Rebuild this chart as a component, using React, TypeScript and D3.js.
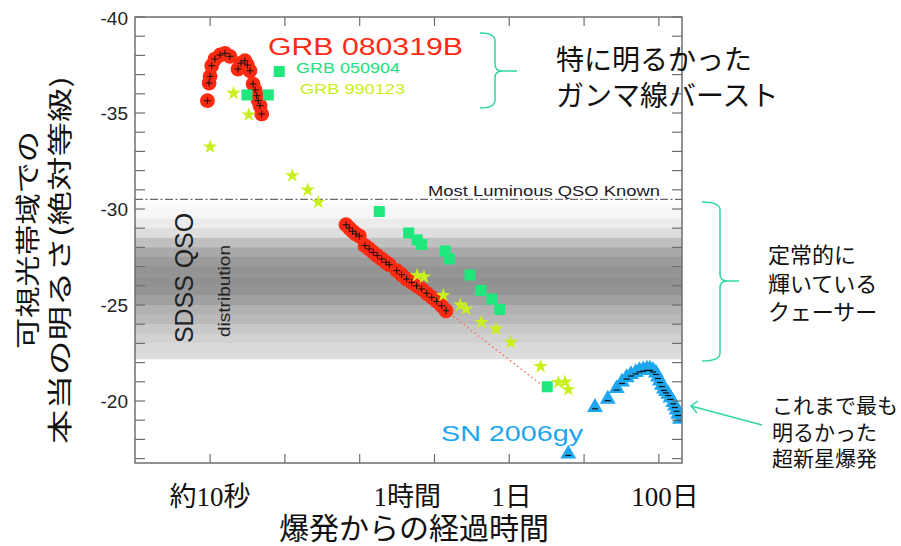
import React, { useEffect, useRef } from 'react';
import * as d3 from 'd3';

// [time since burst (s), absolute visual magnitude]
const grb080319b: [number, number][] = [
  [9.2, -35.64], [9.7, -36.56], [10.0, -36.91],
  [10.5, -37.46], [11.6, -37.81], [13.6, -38.02], [15.8, -38.11], [18.4, -37.95],
  [23.6, -37.29], [25.9, -37.6], [29.2, -37.72], [31.5, -37.5], [34.1, -37.2],
  [37.5, -36.51], [40, -36.2], [42, -35.9], [44, -35.65], [46.5, -35.38], [49, -34.95],
  [656, -29.18], [726, -29.01], [805, -28.84], [891, -28.7], [989, -28.59],
  [1178, -28.09], [1343, -27.92], [1521, -27.74], [1718, -27.57], [1968, -27.4],
  [2249, -27.22], [2489, -27.1],
  [3126, -26.79], [3639, -26.58], [4246, -26.35], [4955, -26.18], [5781, -26.0],
  [6745, -25.83], [7870, -25.61], [9183, -25.4], [10690, -25.19], [12470, -24.96],
  [14260, -24.7],
];
const grb080319bTail: [number, number][] = [[14260, -24.7], [282500, -20.78]];

const grb050904: [number, number][] = [
  [31.1, -35.94], [60, -35.94], [84, -37.16], [1828, -29.87], [4520, -28.75],
  [5890, -28.39], [6745, -28.15], [13930, -27.81], [15730, -27.4], [29850, -26.56],
  [41600, -25.76], [58200, -25.31], [74450, -24.77], [322000, -20.74],
];

const grb990123: [number, number][] = [
  [10, -33.24], [20.6, -36.03], [32.8, -34.9], [125.6, -31.74], [202, -30.99],
  [280, -30.36], [5840, -26.54], [7240, -26.46], [13120, -25.5], [22130, -25.0],
  [26380, -24.79], [42480, -24.09], [66400, -23.75], [105400, -23.06],
  [263000, -21.8], [452000, -20.97], [555600, -20.99], [615000, -20.59],
];

const sn2006gy: [number, number][] = [
  [615000, -17.24], [1.4e6, -19.67], [2.075e6, -20.1], [2.73e6, -20.65],
  [3.21e6, -20.99], [3.71e6, -21.22], [4.24e6, -21.38], [4.91e6, -21.49],
  [5.51e6, -21.59], [6.18e6, -21.63], [6.93e6, -21.67], [7.6e6, -21.67],
  [8.34e6, -21.59], [9.14e6, -21.46], [9.75e6, -21.25], [1.035e7, -21.04],
  [1.1e7, -20.83], [1.17e7, -20.63], [1.245e7, -20.5], [1.337e7, -20.36],
  [1.43e7, -20.16], [1.56e7, -19.93], [1.64e7, -19.74], [1.73e7, -19.54],
  [1.817e7, -19.32], [1.915e7, -19.06],
];

// SDSS QSO distribution: magnitude bin edges and relative density
const qsoMagEdges = [-30.3, -30, -29.5, -29, -28.5, -28, -27.5, -27, -26.5, -26, -25.5, -25, -24.5, -24, -23.5, -23, -22.5, -22.2];
const qsoDensity = [0.01, 0.05, 0.15, 0.26, 0.54, 0.75, 0.87, 0.94, 0.96, 0.94, 0.83, 0.66, 0.6, 0.46, 0.37, 0.3, 0.26];
const mostLuminousQso = -30.5;

const magTickLabels = [-40, -35, -30, -25, -20];
const magMinorTicks = d3.range(-40, -16, 1);
const timeDecades = [10, 100, 1e3, 1e4, 1e5, 1e6, 1e7];
const timeTickValues = [10, 3600, 86400, 8640000];
const timeTickLabels = ['約10秒', '1時間', '1日', '100日'];

const JP = "'Noto Sans CJK JP', sans-serif";
const SANS = "'Liberation Sans', Arial, sans-serif";
const SERIF = "'Liberation Serif', 'Noto Sans CJK JP', serif";
const TEAL = '#2fd6a6';

const App = () => {
  const svgRef = useRef<SVGSVGElement>(null);

  useEffect(() => {
    if (!svgRef.current) return;
    const svg = d3.select(svgRef.current);
    svg.selectAll('*').remove();

    const left = 135, right = 682, top = 17, bottom = 463;
    const x = d3.scaleLog().domain([0.99, 2.04e7]).range([left, right]);
    const y = d3.scaleLinear().domain([-40, -16.77]).range([top, bottom]);
    const gray = d3.scaleLinear<string>().domain([0, 1]).range(['#fbfbfb', '#8d8d8d']);

    svg.append('defs').append('clipPath').attr('id', 'plot-clip')
      .append('rect').attr('x', left).attr('y', top)
      .attr('width', right - left).attr('height', bottom - top);

    const plot = svg.append('g').attr('clip-path', 'url(#plot-clip)');

    // QSO band
    plot.selectAll('.qso')
      .data(qsoDensity)
      .enter()
      .append('rect')
      .attr('x', left)
      .attr('width', right - left)
      .attr('y', (d, i) => y(qsoMagEdges[i]))
      .attr('height', (d, i) => y(qsoMagEdges[i + 1]) - y(qsoMagEdges[i]) + 0.5)
      .attr('fill', d => gray(d));

    plot.append('line')
      .attr('x1', left).attr('x2', right)
      .attr('y1', y(mostLuminousQso)).attr('y2', y(mostLuminousQso))
      .attr('stroke', '#6a6a6a').attr('stroke-width', 1.2)
      .attr('stroke-dasharray', '8,2.5,2,2.5');

    plot.append('text')
      .attr('x', 428).attr('y', 196)
      .attr('font-family', SANS).attr('font-size', 15)
      .attr('textLength', 232).attr('lengthAdjust', 'spacingAndGlyphs')
      .attr('fill', '#1a1a2a')
      .text('Most Luminous QSO Known');

    plot.append('text')
      .attr('transform', 'translate(184,278) rotate(-90)')
      .attr('text-anchor', 'middle').attr('dominant-baseline', 'central')
      .attr('font-family', SANS).attr('font-size', 25)
      .attr('textLength', 130).attr('lengthAdjust', 'spacingAndGlyphs')
      .attr('fill', '#222')
      .text('SDSS QSO');

    plot.append('text')
      .attr('transform', 'translate(224,291) rotate(-90)')
      .attr('text-anchor', 'middle').attr('dominant-baseline', 'central')
      .attr('font-family', SANS).attr('font-size', 17)
      .attr('textLength', 92).attr('lengthAdjust', 'spacingAndGlyphs')
      .attr('fill', '#222')
      .text('distribution');

    // GRB 080319B: red blobs with black crosses, dotted extrapolation
    plot.append('path')
      .datum(grb080319bTail)
      .attr('d', d3.line<[number, number]>().x(d => x(d[0])).y(d => y(d[1])))
      .attr('fill', 'none').attr('stroke', '#ff6a5a')
      .attr('stroke-width', 1.4).attr('stroke-dasharray', '1.5,3');

    plot.selectAll('.grb-a')
      .data(grb080319b)
      .enter()
      .append('circle')
      .attr('cx', d => x(d[0])).attr('cy', d => y(d[1]))
      .attr('r', 7.4)
      .attr('fill', '#ff2a12');

    const cross = 3.5;
    plot.selectAll('.grb-a-cross')
      .data(grb080319b)
      .enter()
      .append('path')
      .attr('d', d => {
        const cx = x(d[0]), cy = y(d[1]);
        return `M${cx - cross},${cy}H${cx + cross}M${cx},${cy - cross}V${cy + cross}`;
      })
      .attr('stroke', '#111').attr('stroke-width', 1);

    // GRB 050904 squares
    plot.selectAll('.grb-b')
      .data(grb050904)
      .enter()
      .append('rect')
      .attr('x', d => x(d[0]) - 5.5).attr('y', d => y(d[1]) - 5.5)
      .attr('width', 11).attr('height', 11)
      .attr('fill', '#1ee87c');

    // GRB 990123 stars
    const star = d3.symbol().type(d3.symbolStar).size(66);
    plot.selectAll('.grb-c')
      .data(grb990123)
      .enter()
      .append('path')
      .attr('transform', d => `translate(${x(d[0])},${y(d[1])})`)
      .attr('d', star())
      .attr('fill', '#c8f01e');

    // SN 2006gy triangles
    const tri = d3.symbol().type(d3.symbolTriangle).size(110);
    plot.selectAll('.sn')
      .data(sn2006gy)
      .enter()
      .append('path')
      .attr('transform', d => `translate(${x(d[0])},${y(d[1])})`)
      .attr('d', tri())
      .attr('fill', '#1ea6f0');
    plot.selectAll('.sn-dash')
      .data(sn2006gy)
      .enter()
      .append('path')
      .attr('d', d => `M${x(d[0]) - 3},${y(d[1]) + 1.5}H${x(d[0]) + 3}`)
      .attr('stroke', '#111').attr('stroke-width', 1.2);

    // frame + ticks
    const axisColor = '#6e6e6e';
    svg.append('rect')
      .attr('x', left).attr('y', top)
      .attr('width', right - left).attr('height', bottom - top)
      .attr('fill', 'none').attr('stroke', axisColor).attr('stroke-width', 1.5);

    const tickG = svg.append('g').attr('stroke', axisColor).attr('stroke-width', 1.2);
    magMinorTicks.forEach(m => {
      tickG.append('line').attr('x1', left).attr('x2', left + 10).attr('y1', y(m)).attr('y2', y(m));
      tickG.append('line').attr('x1', right - 10).attr('x2', right).attr('y1', y(m)).attr('y2', y(m));
    });
    timeDecades.forEach(t => {
      tickG.append('line').attr('x1', x(t)).attr('x2', x(t)).attr('y1', top).attr('y2', top + 9);
      tickG.append('line').attr('x1', x(t)).attr('x2', x(t)).attr('y1', bottom - 9).attr('y2', bottom);
    });

    svg.selectAll('.ylab')
      .data(magTickLabels)
      .enter()
      .append('text')
      .attr('x', 128).attr('y', d => y(d) + 1)
      .attr('text-anchor', 'end').attr('dominant-baseline', 'central')
      .attr('font-family', SANS).attr('font-size', 19)
      .attr('fill', '#222')
      .text(d => d);

    const labelShift = [0, 6, 7, 11];
    svg.selectAll('.xlab')
      .data(timeTickValues)
      .enter()
      .append('text')
      .attr('x', (d, i) => x(d) + labelShift[i]).attr('y', 506)
      .attr('text-anchor', 'middle')
      .attr('font-family', SERIF).attr('font-size', 27)
      .attr('fill', '#111')
      .text((d, i) => timeTickLabels[i]);

    // axis titles
    svg.append('text')
      .attr('x', 414).attr('y', 539)
      .attr('text-anchor', 'middle')
      .attr('font-family', JP).attr('font-size', 30)
      .attr('fill', '#111')
      .text('爆発からの経過時間');

    const yTitle: [string, number, number, number][] = [
      ['可視光帯域での', 26, 240, 218],
      ['本当の明るさ(絶対等級)', 58, 260, 368],
    ];
    yTitle.forEach(([s, cx, cy, len]) => {
      svg.append('text')
        .attr('transform', `translate(${cx},${cy}) scale(0.8,1) rotate(-90)`)
        .attr('text-anchor', 'middle').attr('dominant-baseline', 'central')
        .attr('font-family', JP).attr('font-size', 31)
        .attr('textLength', len).attr('lengthAdjust', 'spacingAndGlyphs')
        .attr('fill', '#111')
        .text(s);
    });

    // series labels
    const labels = [
      { s: 'GRB 080319B', x: 268, y: 55, size: 23, len: 195, c: '#ff2a12' },
      { s: 'GRB 050904', x: 296, y: 73, size: 15, len: 104, c: '#22e07a' },
      { s: 'GRB 990123', x: 300, y: 94, size: 15, len: 105, c: '#c8f01e' },
      { s: 'SN 2006gy', x: 441, y: 441, size: 22, len: 142, c: '#1ea6f0' },
    ];
    labels.forEach(l => {
      svg.append('text')
        .attr('x', l.x).attr('y', l.y)
        .attr('font-family', SANS).attr('font-size', l.size)
        .attr('textLength', l.len).attr('lengthAdjust', 'spacingAndGlyphs')
        .attr('fill', l.c)
        .text(l.s);
    });

    // braces and annotations
    const brace = (x0: number, sx: number, tx: number, y0: number, y1: number, ty: number) =>
      `M${x0},${y0}Q${sx},${y0} ${sx},${y0 + 8}L${sx},${ty - 7}Q${sx},${ty} ${sx + 7},${ty}L${tx},${ty}` +
      `M${sx + 7},${ty}Q${sx},${ty} ${sx},${ty + 7}L${sx},${y1 - 8}Q${sx},${y1} ${x0},${y1}`;

    svg.append('path').attr('d', brace(480, 495, 517, 33, 108, 71))
      .attr('fill', 'none').attr('stroke', TEAL).attr('stroke-width', 1.5);
    svg.append('path').attr('d', brace(702, 720, 739, 202, 361, 281))
      .attr('fill', 'none').attr('stroke', TEAL).attr('stroke-width', 1.5);

    svg.append('path')
      .attr('d', 'M762,425L691,406M698,401L691,406L697,413')
      .attr('fill', 'none').attr('stroke', TEAL).attr('stroke-width', 1.5);

    const notes: [string[], number, number, number, number][] = [
      [['特に明るかった', 'ガンマ線バースト'], 556, 70, 36, 28],
      [['定常的に', '輝いている', 'クェーサー'], 768, 263, 28.5, 22],
      [['これまで最も', '明るかった', '超新星爆発'], 772, 413, 26.5, 21],
    ];
    notes.forEach(([lines, nx, ny, lh, fs]) => {
      lines.forEach((s, i) => {
        svg.append('text')
          .attr('x', nx).attr('y', ny + i * lh)
          .attr('font-family', JP).attr('font-size', fs)
          .attr('fill', '#111')
          .text(s);
      });
    });
  }, []);

  return (
    <svg
      ref={svgRef}
      width={901}
      height={546}
      style={{ position: 'absolute', left: 0, top: 0, background: '#fff' }}
    />
  );
};

export default App;
